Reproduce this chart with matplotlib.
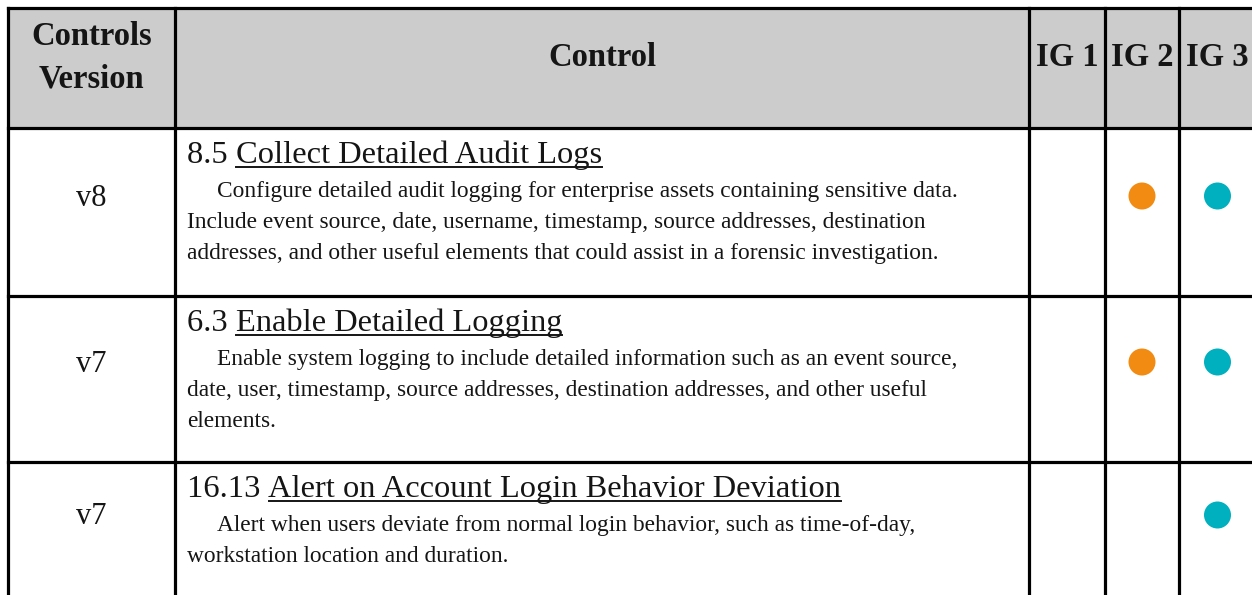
import matplotlib
matplotlib.use("Agg")
import matplotlib.pyplot as plt
from matplotlib.patches import Rectangle, Circle

# ---------------- data ----------------
header_labels = ["Controls\nVersion", "Control", "IG 1", "IG 2", "IG 3"]
versions = ["v8", "v7", "v7"]
control_ids = ["8.5", "6.3", "16.13"]
control_titles = ["Collect Detailed Audit Logs",
                  "Enable Detailed Logging",
                  "Alert on Account Login Behavior Deviation"]
control_desc = [
    ["Configure detailed audit logging for enterprise assets containing sensitive data.",
     "Include event source, date, username, timestamp, source addresses, destination",
     "addresses, and other useful elements that could assist in a forensic investigation."],
    ["Enable system logging to include detailed information such as an event source,",
     "date, user, timestamp, source addresses, destination addresses, and other useful",
     "elements."],
    ["Alert when users deviate from normal login behavior, such as time-of-day,",
     "workstation location and duration."],
]
ig1 = [False, False, False]
ig2 = [True, True, False]
ig3 = [True, True, True]
ig_colors = [None, "#F28B11", "#00B0BF"]

# ---------------- layout ----------------
W, H = 1252, 595
col_edges = [8, 175, 1029, 1105, 1179, 1256]
header_bottom = 128
row_tops = [128, 296, 462]
table_bottom = 600
row_mark_y = [198, 364, 517]
lw = 2.3
font = "Liberation Serif"
ink = "#151515"

fig = plt.figure(figsize=(W / 100, H / 100), dpi=100)
ax = fig.add_axes([0, 0, 1, 1])
ax.set_xlim(0, W)
ax.set_ylim(H, 0)
ax.axis("off")

# header background
ax.add_patch(Rectangle((col_edges[0], 8), col_edges[-1] - col_edges[0], header_bottom - 8,
                       facecolor="#CCCCCC", edgecolor="none", zorder=0))

# grid lines
for x in col_edges:
    ax.plot([x, x], [8, table_bottom], color="black", lw=lw, solid_capstyle="projecting", zorder=3)
for y in [8, header_bottom] + row_tops[1:]:
    ax.plot([col_edges[0], col_edges[-1]], [y, y], color="black", lw=lw,
            solid_capstyle="projecting", zorder=3)

# header text
hsize = 23.5
ax.text((col_edges[0] + col_edges[1]) / 2, 45, "Controls", ha="center", va="baseline",
        fontsize=hsize, fontweight="bold", family=font, color=ink)
ax.text((col_edges[0] + col_edges[1]) / 2, 87, "Version", ha="center", va="baseline",
        fontsize=hsize, fontweight="bold", family=font, color=ink)
for i, lab in enumerate(header_labels[1:], start=1):
    ax.text((col_edges[i] + col_edges[i + 1]) / 2, 66, lab, ha="center", va="baseline",
            fontsize=hsize, fontweight="bold", family=font, color=ink)

# body
title_size = 23.4
body_size = 16.8
fig.canvas.draw()
renderer = fig.canvas.get_renderer()
inv = ax.transData.inverted()

for r in range(len(versions)):
    top = row_tops[r]
    ax.text((col_edges[0] + col_edges[1]) / 2, row_mark_y[r], versions[r], ha="center",
            va="center", fontsize=22, family=font, color=ink)
    x0 = col_edges[1] + 12
    t1 = ax.text(x0, top + 35, control_ids[r] + " ", ha="left", va="baseline",
                 fontsize=title_size, family=font, color=ink)
    bb = t1.get_window_extent(renderer)
    xs = inv.transform((bb.x1, 0))[0]
    t2 = ax.text(xs, top + 35, control_titles[r], ha="left", va="baseline",
                 fontsize=title_size, family=font, color=ink)
    bb2 = t2.get_window_extent(renderer)
    xe = inv.transform((bb2.x1, 0))[0]
    ax.plot([xs, xe], [top + 39, top + 39], color=ink, lw=1.4)
    for j, line in enumerate(control_desc[r]):
        ax.text(x0 + (30 if j == 0 else 0), top + 69 + 31 * j, line, ha="left",
                va="baseline", fontsize=body_size, family=font, color=ink)
    for k, flags in enumerate([ig1, ig2, ig3]):
        if flags[r]:
            cx = (col_edges[k + 2] + col_edges[k + 3]) / 2
            ax.add_patch(Circle((cx, row_mark_y[r] - 2), 13.5, facecolor=ig_colors[k],
                                edgecolor="none", zorder=4))

fig.savefig("out.png", dpi=100, facecolor="white")
